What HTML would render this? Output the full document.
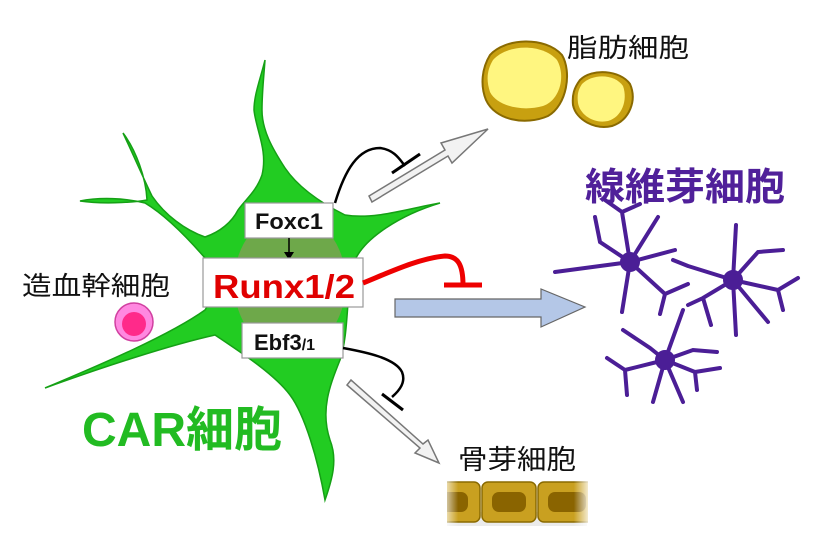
<!DOCTYPE html>
<html><head><meta charset="utf-8"><style>
html,body{margin:0;padding:0;background:#fff}
svg{display:block}
text{font-family:"Liberation Sans","Noto Sans CJK JP",sans-serif}
</style></head><body>
<svg width="830" height="560" viewBox="0 0 830 560" xmlns="http://www.w3.org/2000/svg">
<defs>
<linearGradient id="ob" x1="0" x2="1"><stop offset="0" stop-color="#fff" stop-opacity="1"/><stop offset="0.12" stop-color="#fff" stop-opacity="0"/><stop offset="0.88" stop-color="#fff" stop-opacity="0"/><stop offset="1" stop-color="#fff" stop-opacity="1"/></linearGradient>
</defs>
<!-- CAR cell -->
<path fill="#22cc22" stroke="#15a015" stroke-width="1.5" d="M265,60 C260,80 254,95 254,110 C256,130 268,150 262,175 C256,192 245,200 238,210
C232,222 220,232 205,237 C185,230 165,215 152,196 C142,175 132,152 123,133 C136,150 146,178 147,200 C130,203 100,204 80,201 C100,197 125,198 145,203
C165,215 185,235 205,258 C215,275 215,295 205,310 C170,335 100,365 45,388 C100,368 170,345 215,335 C245,355 275,375 290,395
C305,415 318,460 325,500 C332,480 338,460 330,440 C320,410 330,385 340,360 C350,330 345,290 355,260 C365,238 400,215 440,203
C410,208 375,220 345,215 C325,205 300,190 285,168 C272,148 262,130 262,110 C262,92 264,75 265,60 Z"/>
<ellipse cx="290" cy="283" rx="56" ry="70" fill="#6ea84a"/>
<!-- boxes -->
<rect x="245" y="203" width="88" height="35" fill="#fff" stroke="#999" stroke-width="1.2"/>
<text x="289" y="229" font-size="22" font-weight="bold" text-anchor="middle" fill="#111" textLength="68" lengthAdjust="spacingAndGlyphs">Foxc1</text>
<line x1="289" y1="238" x2="289" y2="256" stroke="#000" stroke-width="1.5"/>
<path d="M284,252 L289,260 L294,252 Z" fill="#000"/>
<rect x="203" y="258" width="160" height="49" fill="#fff" stroke="#999" stroke-width="1.2"/>
<text x="213" y="298" font-size="33" font-weight="bold" fill="#e00000" textLength="142" lengthAdjust="spacingAndGlyphs">Runx1/2</text>
<rect x="242" y="323" width="101" height="35" fill="#fff" stroke="#999" stroke-width="1.2"/>
<text x="254" y="350" font-size="22" font-weight="bold" fill="#111">Ebf3<tspan font-size="16">/1</tspan></text>
<!-- HSC -->
<text x="22" y="295" font-size="26" fill="#111" textLength="148" lengthAdjust="spacingAndGlyphs">造血幹細胞</text>
<circle cx="134" cy="322" r="19" fill="#ff88e0" stroke="#d040a0" stroke-width="1.5"/>
<circle cx="134" cy="324" r="12" fill="#ff2a8a"/>
<text x="82" y="446" font-size="48" font-weight="bold" fill="#22bb22">CAR細胞</text>
<!-- white arrows -->
<g fill="#f2f2f2" stroke="#777" stroke-width="1.5">
<path d="M372,202 L448,156 L452,163 L488,129 L441,143 L445,150 L369,196 Z"/>
<path d="M347,385 L420,448 L415,453 L439,463 L428,440 L423,444 L351,380 Z"/>
</g>
<path d="M335,203 C345,170 358,148 380,148 C395,150 400,160 405,166" fill="none" stroke="#000" stroke-width="2.5"/>
<line x1="392" y1="173" x2="420" y2="154" stroke="#000" stroke-width="3"/>
<path d="M343,348 C365,352 395,358 402,372 C406,382 400,390 392,397" fill="none" stroke="#000" stroke-width="2.5"/>
<line x1="382" y1="394" x2="403" y2="410" stroke="#000" stroke-width="3"/>
<!-- red inhibition -->
<path d="M363,283 C390,272 420,258 445,256 C458,256 463,265 463,285" fill="none" stroke="#ee0000" stroke-width="5"/>
<line x1="444" y1="285" x2="482" y2="285" stroke="#ee0000" stroke-width="5"/>
<!-- blue arrow -->
<path d="M395,299 L541,299 L541,289 L585,307 L541,327 L541,317 L395,317 Z" fill="#b4c7e7" stroke="#666" stroke-width="1.2"/>
<!-- adipocytes -->
<g stroke="#8a6a00" stroke-width="2">
<path d="M490,55 C505,38 545,36 562,55 C572,72 567,105 548,116 C525,126 495,120 486,100 C480,85 482,68 490,55 Z" fill="#c8a010"/>
<path d="M493,60 C507,44 542,43 557,60 C566,76 560,100 543,106 C522,112 497,106 490,92 C486,80 487,70 493,60 Z" fill="#fff680" stroke="none"/>
<path d="M580,80 C592,68 620,70 630,84 C637,100 630,120 612,126 C595,130 576,120 573,105 C572,95 574,88 580,80 Z" fill="#c8a010"/>
<path d="M582,84 C593,73 615,74 623,86 C628,100 622,117 608,121 C594,124 580,115 578,103 C577,95 578,90 582,84 Z" fill="#fff680" stroke="none"/>
</g>
<text x="567" y="57" font-size="26" fill="#111" textLength="122" lengthAdjust="spacingAndGlyphs">脂肪細胞</text>
<!-- fibroblasts -->
<text x="585" y="200" font-size="38" font-weight="bold" fill="#50209a" textLength="200" lengthAdjust="spacingAndGlyphs">線維芽細胞</text>
<g stroke="#4b1e96" stroke-width="4" fill="none" stroke-linecap="round">
<g transform="translate(630,262)">
<path d="M0,0 L-8,-50 M-8,-50 L-25,-62 M-8,-50 L10,-58 M0,0 L28,-45 M0,0 L-30,-20 L-35,-45 M0,0 L45,-12 M0,0 L-75,10 M0,0 L-8,50 M0,0 L35,32 M35,32 L58,22 M35,32 L30,52"/>
<circle r="8" fill="#4b1e96"/>
</g>
<g transform="translate(733,280)">
<path d="M0,0 L3,-55 M0,0 L-45,-14 M-45,-14 L-60,-20 M0,0 L25,-28 L50,-30 M0,0 L45,10 M45,10 L65,-2 M45,10 L50,30 M0,0 L3,55 M0,0 L35,42 M0,0 L-30,18 L-45,25 M-30,18 L-22,45"/>
<circle r="8" fill="#4b1e96"/>
</g>
<g transform="translate(665,360)">
<path d="M0,0 L18,-50 M0,0 L-15,-12 L-42,-30 M0,0 L28,-10 L52,-8 M0,0 L30,12 M30,12 L55,8 M30,12 L32,30 M0,0 L-40,10 M-40,10 L-58,-2 M-40,10 L-38,35 M0,0 L-12,42 M0,0 L18,42"/>
<circle r="8" fill="#4b1e96"/>
</g>
</g>
<!-- osteoblasts -->
<text x="458" y="469" font-size="27" fill="#111" textLength="118" lengthAdjust="spacingAndGlyphs">骨芽細胞</text>
<rect x="445" y="512" width="142" height="14" fill="#ddd" opacity="0.6"/>
<g stroke="#8a6a00" stroke-width="1.5" fill="#c9a020">
<rect x="420" y="482" width="60" height="40" rx="6"/>
<rect x="482" y="482" width="54" height="40" rx="6"/>
<rect x="538" y="482" width="60" height="40" rx="6"/>
</g>
<g fill="#8a6400">
<rect x="430" y="492" width="38" height="20" rx="7"/>
<rect x="492" y="492" width="34" height="20" rx="7"/>
<rect x="548" y="492" width="38" height="20" rx="7"/>
</g>
<rect x="440" y="478" width="152" height="50" fill="url(#ob)"/>
<rect x="410" y="476" width="37" height="54" fill="#fff"/>
<rect x="588" y="476" width="20" height="54" fill="#fff"/>
</svg>
</body></html>
